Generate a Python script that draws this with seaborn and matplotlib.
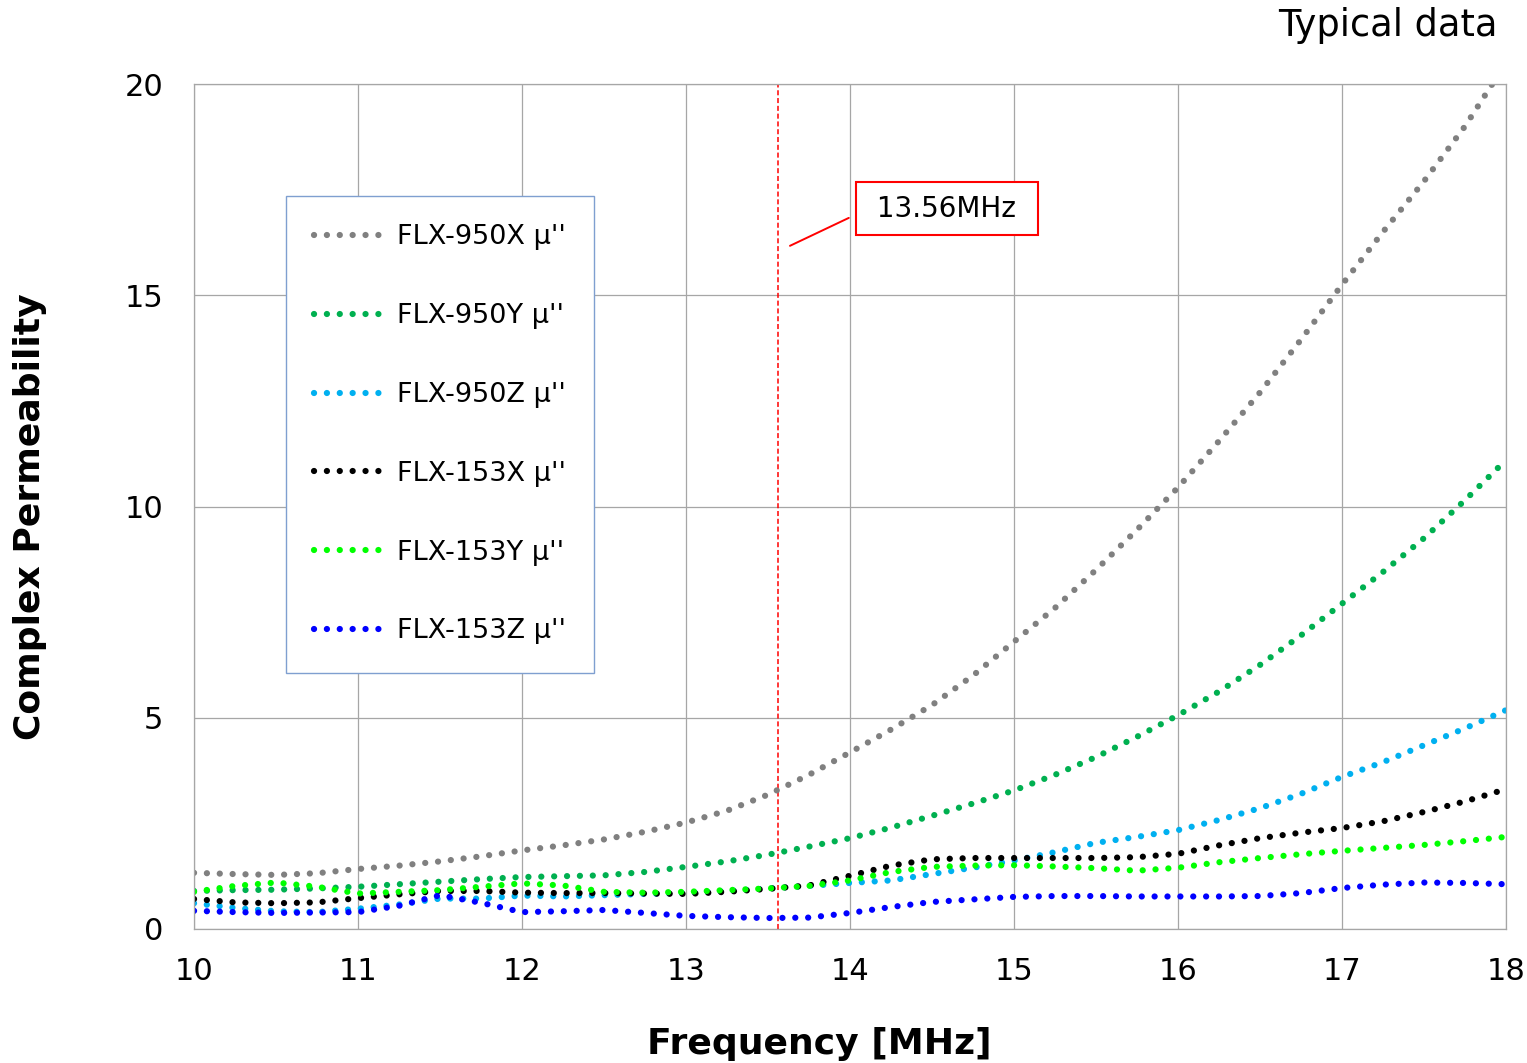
import pandas as pd
import matplotlib
matplotlib.use('Agg')
import matplotlib.pyplot as plt
import seaborn as sns

# frequency grid [MHz]
freq = [10.0, 10.25, 10.5, 10.75, 11.0, 11.25, 11.5, 11.75, 12.0, 12.25, 12.5,
        12.75, 13.0, 13.25, 13.5, 13.75, 14.0, 14.25, 14.5, 14.75, 15.0, 15.25,
        15.5, 15.75, 16.0, 16.25, 16.5, 16.75, 17.0, 17.25, 17.5, 17.75, 18.0]

# mu'' values
flx_950x = [1.33, 1.30, 1.28, 1.32, 1.42, 1.50, 1.60, 1.72, 1.86, 1.98, 2.12,
            2.30, 2.52, 2.80, 3.18, 3.65, 4.18, 4.72, 5.30, 6.00, 6.80, 7.60,
            8.50, 9.45, 10.45, 11.55, 12.70, 13.95, 15.25, 16.50, 17.70, 19.00, 20.50]
flx_950y = [0.90, 0.92, 0.93, 0.96, 1.00, 1.06, 1.12, 1.18, 1.23, 1.25, 1.27,
            1.35, 1.47, 1.60, 1.76, 1.95, 2.15, 2.40, 2.68, 2.97, 3.28, 3.65,
            4.07, 4.55, 5.06, 5.62, 6.25, 6.95, 7.70, 8.45, 9.25, 10.15, 11.10]
flx_950z = [0.61, 0.50, 0.42, 0.40, 0.48, 0.58, 0.72, 0.72, 0.79, 0.77, 0.80,
            0.83, 0.85, 0.90, 0.96, 1.02, 1.09, 1.15, 1.30, 1.45, 1.62, 1.82,
            2.04, 2.18, 2.34, 2.58, 2.86, 3.20, 3.60, 3.95, 4.35, 4.75, 5.18]
flx_153x = [0.71, 0.63, 0.61, 0.63, 0.73, 0.82, 0.90, 0.90, 0.86, 0.85, 0.85,
            0.84, 0.83, 0.88, 0.95, 1.03, 1.26, 1.50, 1.65, 1.68, 1.68, 1.68,
            1.68, 1.70, 1.78, 1.98, 2.15, 2.28, 2.39, 2.55, 2.77, 3.02, 3.31]
flx_153y = [0.88, 1.02, 1.10, 1.00, 0.84, 0.88, 0.92, 1.00, 1.08, 1.03, 0.88,
            0.86, 0.88, 0.92, 0.96, 1.02, 1.15, 1.35, 1.47, 1.50, 1.51, 1.48,
            1.44, 1.38, 1.45, 1.58, 1.68, 1.77, 1.85, 1.92, 1.99, 2.08, 2.18]
flx_153z = [0.43, 0.40, 0.38, 0.39, 0.40, 0.55, 0.80, 0.62, 0.40, 0.42, 0.45,
            0.38, 0.31, 0.28, 0.26, 0.27, 0.38, 0.52, 0.64, 0.70, 0.76, 0.78,
            0.78, 0.77, 0.77, 0.77, 0.78, 0.85, 0.97, 1.05, 1.10, 1.09, 1.06]

series = {
    "FLX-950X μ''": flx_950x,
    "FLX-950Y μ''": flx_950y,
    "FLX-950Z μ''": flx_950z,
    "FLX-153X μ''": flx_153x,
    "FLX-153Y μ''": flx_153y,
    "FLX-153Z μ''": flx_153z,
}
colors = ['#808080', '#00b050', '#00b0f0', '#000000', '#00ff00', '#0000ff']

sns.set_theme(style='white')
plt.rcParams['font.family'] = ['DejaVu Sans']
plt.rcParams['text.color'] = 'black'
plt.rcParams['axes.labelcolor'] = 'black'

fig = plt.figure(figsize=(15.27, 10.63), dpi=100)
ax = fig.add_axes([194 / 1527, 1 - 929 / 1063, 1312 / 1527, 845 / 1063])

for (name, vals), col in zip(series.items(), colors):
    sns.lineplot(x=freq, y=vals, ax=ax, color=col, label=name,
                 linewidth=4.5, linestyle=(0, (0.01, 2.05)),
                 dash_capstyle='round')

# 13.56 MHz marker
ax.axvline(13.56, color='red', linewidth=1.1, linestyle=(0, (3.3, 1.8)), zorder=1)
ax.annotate(' 13.56MHz ', xy=(13.634, 16.17), xytext=(14.59, 17.05),
            fontsize=20, ha='center', va='center', color='black',
            bbox=dict(boxstyle='square,pad=0.45', fc='white', ec='red', lw=1.5),
            arrowprops=dict(arrowstyle='-', color='red', lw=1.4,
                            relpos=(0, 0.5), shrinkA=5, shrinkB=0))

ax.set_xlim(10, 18)
ax.set_ylim(0, 20)
ax.set_xticks(range(10, 19))
ax.set_yticks([0, 5, 10, 15, 20])
ax.set_axisbelow(True)
ax.grid(True, color='#a6a6a6', linewidth=0.9)
for sp in ax.spines.values():
    sp.set_color('#a6a6a6')
    sp.set_linewidth(0.9)
ax.tick_params(length=0, labelsize=22, colors='black')
ax.tick_params(axis='y', pad=22)
ax.tick_params(axis='x', pad=20)

ax.set_xlabel('Frequency [MHz]', fontsize=26, fontweight='bold')
ax.set_ylabel('Complex Permeability', fontsize=26, fontweight='bold')
ax.xaxis.set_label_coords(0.4765, -0.116)
ax.yaxis.set_label_coords(-0.112, 0.4876)

leg = ax.legend(loc='upper left', bbox_to_anchor=(0.0701, 0.8675),
                borderaxespad=0, fontsize=19.5, frameon=True, fancybox=False,
                framealpha=1, handlelength=2.7, handletextpad=0.35,
                labelspacing=1.95, borderpad=1.05)
leg.get_frame().set_edgecolor('#7f9fd0')
leg.get_frame().set_linewidth(1.0)
for t in leg.get_texts():
    t.set_color('black')

fig.text(1498 / 1527, 1 - 36 / 1063, 'Typical data', ha='right',
         va='baseline', fontsize=26.5, color='black')

fig.savefig('out.png', dpi=100, facecolor='white')
